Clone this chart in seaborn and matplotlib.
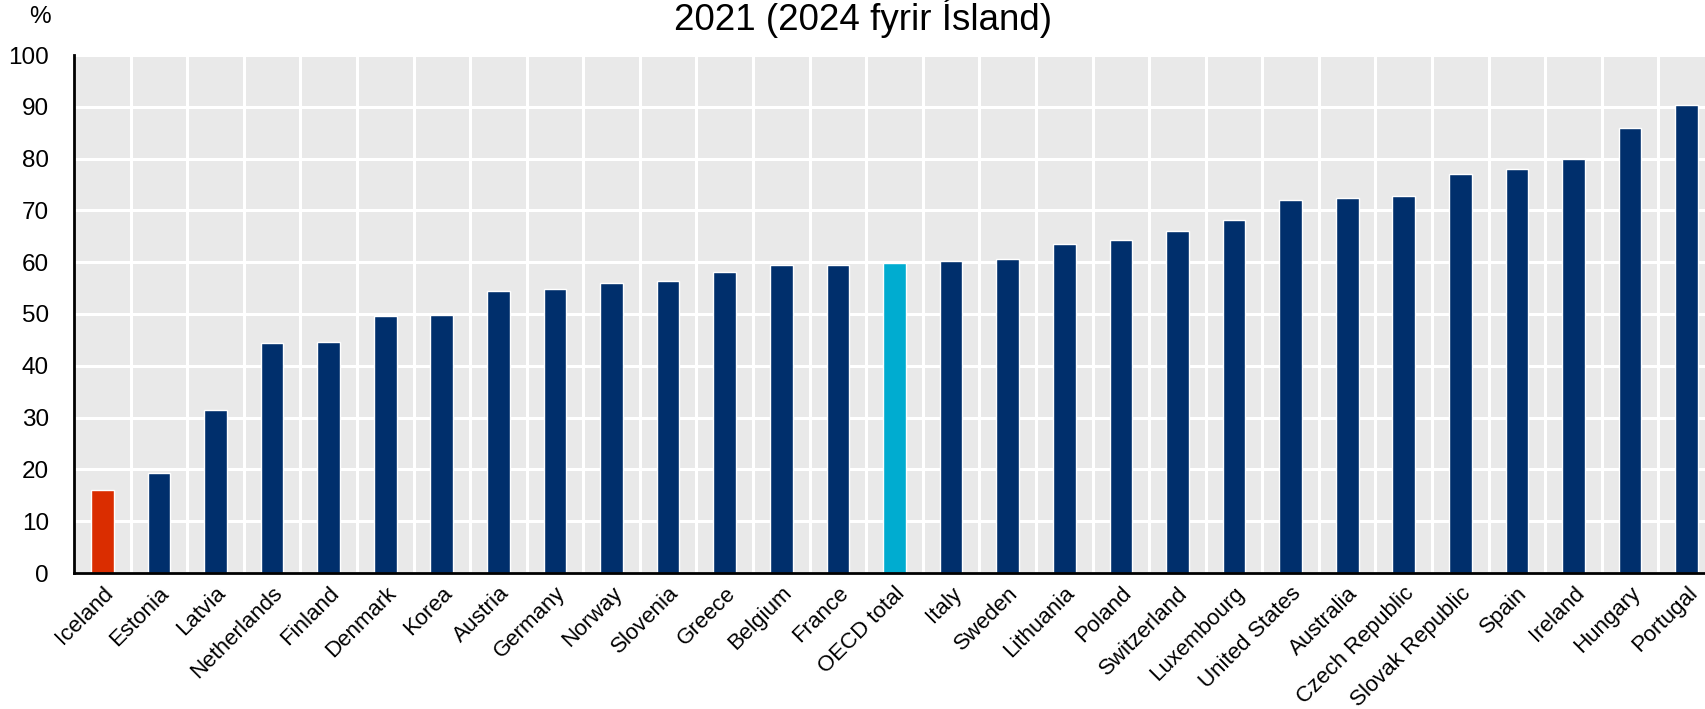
import matplotlib
matplotlib.use("Agg")
import matplotlib.pyplot as plt
import seaborn as sns
import pandas as pd
import numpy as np

# data
countries = ["Iceland", "Estonia", "Latvia", "Netherlands", "Finland", "Denmark", "Korea",
             "Austria", "Germany", "Norway", "Slovenia", "Greece", "Belgium", "France",
             "OECD total", "Italy", "Sweden", "Lithuania", "Poland", "Switzerland",
             "Luxembourg", "United States", "Australia", "Czech Republic", "Slovak Republic",
             "Spain", "Ireland", "Hungary", "Portugal"]
values = [16.0, 19.3, 31.4, 44.4, 44.5, 49.6, 49.8,
          54.5, 54.9, 55.9, 56.3, 58.2, 59.4, 59.4,
          59.8, 60.3, 60.6, 63.5, 64.2, 66.0,
          68.2, 72.1, 72.3, 72.8, 77.0,
          77.9, 79.9, 85.9, 90.4]
yticks = [0, 10, 20, 30, 40, 50, 60, 70, 80, 90, 100]
title = "2021 (2024 fyrir Ísland)"

NAVY = "#002F6C"
RED = "#DA2D00"
CYAN = "#00ACD0"
palette = {c: NAVY for c in countries}
palette["Iceland"] = RED
palette["OECD total"] = CYAN

df = pd.DataFrame({"country": countries, "value": values})

sns.set_style("white")
plt.rcParams["font.family"] = ["Liberation Sans", "DejaVu Sans"]
plt.rcParams["text.color"] = "black"
plt.rcParams["xtick.color"] = "black"
plt.rcParams["ytick.color"] = "black"

W, H = 1706, 709
fig = plt.figure(figsize=(W / 100, H / 100), dpi=100)
ax = fig.add_axes([74 / W, 136 / H, (1715 - 74) / W, 518 / H])
ax.set_facecolor("#E9E9E9")

sns.barplot(data=df, x="country", y="value", hue="country", palette=palette,
            legend=False, width=0.4, saturation=1, ax=ax, zorder=3)

n = len(countries)
ax.set_xlim(-0.5, n - 0.5)
ax.set_ylim(0, 100)
ax.set_yticks(yticks)
ax.set_xlabel("")
ax.set_ylabel("")

# grid: horizontal at y ticks, vertical at slot boundaries
ax.set_xticks(np.arange(n) + 0.5, minor=True)
ax.grid(True, which="major", axis="y", color="white", linewidth=2.2, zorder=1)
ax.grid(True, which="minor", axis="x", color="white", linewidth=2.2, zorder=1)
ax.set_axisbelow(True)

ax.set_xticks(range(n))
ax.set_xticklabels(countries, rotation=45, ha="right", rotation_mode="anchor",
                   fontsize=16)
ax.tick_params(axis="x", which="major", length=0, pad=7)
ax.tick_params(axis="x", which="minor", direction="in", length=6, width=2,
               color="black")
ax.tick_params(axis="y", direction="in", length=6, width=2, color="black",
               labelsize=17.5, pad=18)

for s in ["top", "right"]:
    ax.spines[s].set_visible(False)
for s in ["left", "bottom"]:
    ax.spines[s].set_color("black")
    ax.spines[s].set_linewidth(2)
    ax.spines[s].set_zorder(5)

fig.text(863 / W, 1 - 18 / H, title, ha="center", va="center", fontsize=26.5)
fig.text(40 / W, 1 - 17 / H, "%", ha="center", va="center", fontsize=17.5)

fig.savefig("out.png", dpi=100)
